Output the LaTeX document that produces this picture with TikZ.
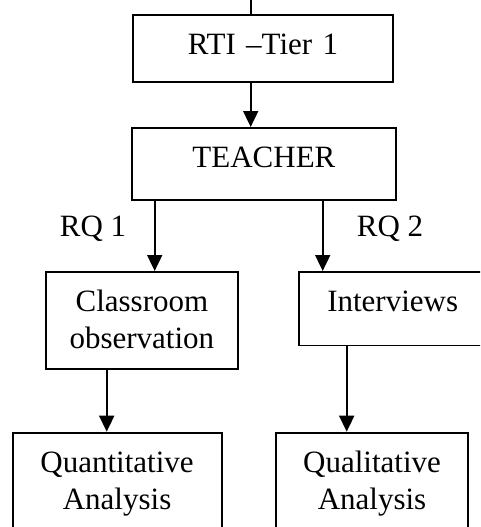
\documentclass[tikz,border=0pt]{standalone}
\usepackage{fontspec}
\setmainfont{Liberation Serif}
\usetikzlibrary{arrows.meta}

\begin{document}
\begin{tikzpicture}[x=1pt, y=-1pt, boxnode/.style={rectangle, draw=black, line width=1.8pt, inner sep=0pt, align=center, text height=40pt, font=\fontsize{31}{37}\selectfont, anchor=north west},
 arrowline/.style={-{Triangle[length=16pt,width=15pt]}, black, line width=1.8pt}, rqlabel/.style={font=\fontsize{31}{37}\selectfont, anchor=base}, ]

                \useasboundingbox (0,0) rectangle (480,527);
                \clip (0,0) rectangle (480,527);

                \node[boxnode, text width=260pt, text depth=27pt] (rti) at (132,14) {RTI –Tier 1};
                \node[boxnode, text width=264pt, text depth=32pt] (teacher) at (131,127) {TEACHER};
                \node[boxnode, text width=192pt, text depth=56.7pt] (classroom) at (45,271) {Classroom\\observation};
                \node[boxnode, text width=187pt, text depth=33.6pt] (interviews) at (298.3,271) {Interviews};
                \node[boxnode, text width=209pt, text depth=100pt] (quant) at (11.7,431.7) {Quantitative\\Analysis};
                \node[boxnode, text width=192.3pt, text depth=100pt] (qual) at (275,431.7) {Qualitative\\Analysis};

                \node[rqlabel] (rq1) at (93,236.7) {RQ 1};
                \node[rqlabel] (rq2) at (390,236.7) {RQ 2};

                % columns of the connectors
                \coordinate (c0) at (250.7,0);
                \coordinate (c1) at (154.7,0);
                \coordinate (c2) at (322.7,0);
                \coordinate (c3) at (106.7,0);
                \coordinate (c4) at (346.7,0);

                \draw[black, line width=1.8pt] (c0) -- (rti.north -| c0);
                \path [arrowline] (rti.south -| c0) edge (teacher.north -| c0)
                                  (teacher.south -| c1) edge (classroom.north -| c1)
                                  (teacher.south -| c2) edge (interviews.north -| c2)
                                  (classroom.south -| c3) edge (quant.north -| c3)
                                  (interviews.south -| c4) edge (qual.north -| c4);
\end{tikzpicture}
\end{document}
